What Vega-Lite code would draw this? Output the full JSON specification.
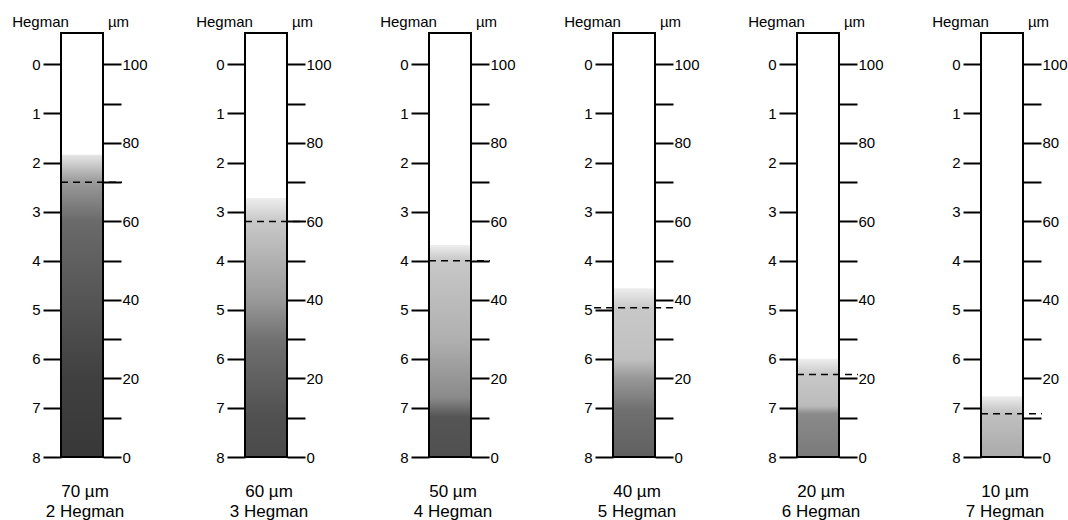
{
  "$schema": "https://vega.github.io/schema/vega-lite/v6.json",
  "background": "white",
  "padding": {"left": 11, "top": 14, "right": 0, "bottom": 0},
  "config": {
    "view": {"stroke": null},
    "font": "Liberation Sans",
    "axis": {"labelFont": "Liberation Sans", "titleFont": "Liberation Sans", "labelColor": "black", "titleColor": "black", "tickColor": "black", "labelFontSize": 15, "titleFontSize": 15, "titleFontWeight": "normal", "tickWidth": 2, "grid": false, "domain": false},
    "title": {"font": "Liberation Sans", "fontSize": 17, "fontWeight": "normal", "color": "black"}
  },
  "datasets": {
    "gauges": [
      {"gauge": 1, "stipple_top": 77, "reading_um": 70, "reading_hegman": 2},
      {"gauge": 2, "stipple_top": 66, "reading_um": 60, "reading_hegman": 3},
      {"gauge": 3, "stipple_top": 54, "reading_um": 50, "reading_hegman": 4},
      {"gauge": 4, "stipple_top": 43, "reading_um": 38, "reading_hegman": 5},
      {"gauge": 5, "stipple_top": 25, "reading_um": 21, "reading_hegman": 6},
      {"gauge": 6, "stipple_top": 15.5, "reading_um": 11, "reading_hegman": 7}
    ]
  },
  "bounds": "flush",
  "spacing": 142,
  "hconcat": [
    {
      "width": 42, "height": 424,
      "data": {"name": "gauges"},
      "transform": [{"filter": "datum.gauge === 1"}],
      "title": {"text": ["70 µm", "2 Hegman"], "orient": "bottom", "frame": "group", "anchor": "middle", "baseline": "top", "offset": 19, "lineHeight": 20, "dx": 3},
      "resolve": {"axis": {"y": "independent"}},
      "layer": [
        {
          "mark": {"type": "rect", "fill": {"gradient": "linear", "x1": 0, "y1": 0, "x2": 0, "y2": 1, "stops": [{"offset": 0, "color": "#e6e6e6"}, {"offset": 0.09, "color": "#9a9a9a"}, {"offset": 0.22, "color": "#6a6a6a"}, {"offset": 0.48, "color": "#555555"}, {"offset": 0.74, "color": "#404040"}, {"offset": 1, "color": "#383838"}]}},
          "encoding": {
            "x": {"datum": 0, "type": "quantitative", "scale": {"domain": [0, 1]}, "axis": null},
            "x2": {"datum": 1},
            "y": {"field": "stipple_top", "type": "quantitative", "scale": {"domain": [0, 108], "nice": false},
                  "axis": {"orient": "left", "values": [100, 87.5, 75, 62.5, 50, 37.5, 25, 12.5, 0], "labelExpr": "format((100 - datum.value) / 12.5, 'd')", "tickSize": 18, "labelPadding": 3, "title": "Hegman", "titleAngle": 0, "titleAlign": "center", "titleBaseline": "alphabetic", "titleX": -21, "titleY": -7}},
            "y2": {"datum": 0}
          }
        },
        {
          "mark": {"type": "rule", "strokeDash": [7, 5], "strokeWidth": 1.5, "color": "black", "clip": false},
          "encoding": {"x": {"datum": 0, "type": "quantitative"}, "x2": {"datum": 1.45}, "y": {"field": "reading_um", "type": "quantitative", "axis": null}}
        },
        {
          "mark": {"type": "rect", "fill": null, "stroke": "black", "strokeWidth": 2},
          "encoding": {
            "x": {"datum": 0, "type": "quantitative"}, "x2": {"datum": 1},
            "y": {"datum": 108, "type": "quantitative",
                  "axis": {"orient": "right", "values": [0, 10, 20, 30, 40, 50, 60, 70, 80, 90, 100], "labelExpr": "datum.value % 20 === 0 ? datum.label : ''", "tickSize": 18, "labelPadding": 1, "title": "µm", "titleAngle": 0, "titleAlign": "center", "titleBaseline": "alphabetic", "titleX": 15, "titleY": -7}},
            "y2": {"datum": 0}
          }
        }
      ]
    },
    {
      "width": 42, "height": 424,
      "data": {"name": "gauges"},
      "transform": [{"filter": "datum.gauge === 2"}],
      "title": {"text": ["60 µm", "3 Hegman"], "orient": "bottom", "frame": "group", "anchor": "middle", "baseline": "top", "offset": 19, "lineHeight": 20, "dx": 3},
      "resolve": {"axis": {"y": "independent"}},
      "layer": [
        {
          "mark": {"type": "rect", "fill": {"gradient": "linear", "x1": 0, "y1": 0, "x2": 0, "y2": 1, "stops": [{"offset": 0, "color": "#eeeeee"}, {"offset": 0.09, "color": "#c8c8c8"}, {"offset": 0.39, "color": "#9a9a9a"}, {"offset": 0.55, "color": "#707070"}, {"offset": 0.85, "color": "#505050"}, {"offset": 1, "color": "#4a4a4a"}]}},
          "encoding": {
            "x": {"datum": 0, "type": "quantitative", "scale": {"domain": [0, 1]}, "axis": null},
            "x2": {"datum": 1},
            "y": {"field": "stipple_top", "type": "quantitative", "scale": {"domain": [0, 108], "nice": false},
                  "axis": {"orient": "left", "values": [100, 87.5, 75, 62.5, 50, 37.5, 25, 12.5, 0], "labelExpr": "format((100 - datum.value) / 12.5, 'd')", "tickSize": 18, "labelPadding": 3, "title": "Hegman", "titleAngle": 0, "titleAlign": "center", "titleBaseline": "alphabetic", "titleX": -21, "titleY": -7}},
            "y2": {"datum": 0}
          }
        },
        {
          "mark": {"type": "rule", "strokeDash": [7, 5], "strokeWidth": 1.5, "color": "black", "clip": false},
          "encoding": {"x": {"datum": 0, "type": "quantitative"}, "x2": {"datum": 1.45}, "y": {"field": "reading_um", "type": "quantitative", "axis": null}}
        },
        {
          "mark": {"type": "rect", "fill": null, "stroke": "black", "strokeWidth": 2},
          "encoding": {
            "x": {"datum": 0, "type": "quantitative"}, "x2": {"datum": 1},
            "y": {"datum": 108, "type": "quantitative",
                  "axis": {"orient": "right", "values": [0, 10, 20, 30, 40, 50, 60, 70, 80, 90, 100], "labelExpr": "datum.value % 20 === 0 ? datum.label : ''", "tickSize": 18, "labelPadding": 1, "title": "µm", "titleAngle": 0, "titleAlign": "center", "titleBaseline": "alphabetic", "titleX": 15, "titleY": -7}},
            "y2": {"datum": 0}
          }
        }
      ]
    },
    {
      "width": 42, "height": 424,
      "data": {"name": "gauges"},
      "transform": [{"filter": "datum.gauge === 3"}],
      "title": {"text": ["50 µm", "4 Hegman"], "orient": "bottom", "frame": "group", "anchor": "middle", "baseline": "top", "offset": 19, "lineHeight": 20, "dx": 3},
      "resolve": {"axis": {"y": "independent"}},
      "layer": [
        {
          "mark": {"type": "rect", "fill": {"gradient": "linear", "x1": 0, "y1": 0, "x2": 0, "y2": 1, "stops": [{"offset": 0, "color": "#eeeeee"}, {"offset": 0.07, "color": "#c8c8c8"}, {"offset": 0.44, "color": "#b0b0b0"}, {"offset": 0.72, "color": "#8a8a8a"}, {"offset": 0.81, "color": "#555555"}, {"offset": 1, "color": "#505050"}]}},
          "encoding": {
            "x": {"datum": 0, "type": "quantitative", "scale": {"domain": [0, 1]}, "axis": null},
            "x2": {"datum": 1},
            "y": {"field": "stipple_top", "type": "quantitative", "scale": {"domain": [0, 108], "nice": false},
                  "axis": {"orient": "left", "values": [100, 87.5, 75, 62.5, 50, 37.5, 25, 12.5, 0], "labelExpr": "format((100 - datum.value) / 12.5, 'd')", "tickSize": 18, "labelPadding": 3, "title": "Hegman", "titleAngle": 0, "titleAlign": "center", "titleBaseline": "alphabetic", "titleX": -21, "titleY": -7}},
            "y2": {"datum": 0}
          }
        },
        {
          "mark": {"type": "rule", "strokeDash": [7, 5], "strokeWidth": 1.5, "color": "black", "clip": false},
          "encoding": {"x": {"datum": 0, "type": "quantitative"}, "x2": {"datum": 1.45}, "y": {"field": "reading_um", "type": "quantitative", "axis": null}}
        },
        {
          "mark": {"type": "rect", "fill": null, "stroke": "black", "strokeWidth": 2},
          "encoding": {
            "x": {"datum": 0, "type": "quantitative"}, "x2": {"datum": 1},
            "y": {"datum": 108, "type": "quantitative",
                  "axis": {"orient": "right", "values": [0, 10, 20, 30, 40, 50, 60, 70, 80, 90, 100], "labelExpr": "datum.value % 20 === 0 ? datum.label : ''", "tickSize": 18, "labelPadding": 1, "title": "µm", "titleAngle": 0, "titleAlign": "center", "titleBaseline": "alphabetic", "titleX": 15, "titleY": -7}},
            "y2": {"datum": 0}
          }
        }
      ]
    },
    {
      "width": 42, "height": 424,
      "data": {"name": "gauges"},
      "transform": [{"filter": "datum.gauge === 4"}],
      "title": {"text": ["40 µm", "5 Hegman"], "orient": "bottom", "frame": "group", "anchor": "middle", "baseline": "top", "offset": 19, "lineHeight": 20, "dx": 3},
      "resolve": {"axis": {"y": "independent"}},
      "layer": [
        {
          "mark": {"type": "rect", "fill": {"gradient": "linear", "x1": 0, "y1": 0, "x2": 0, "y2": 1, "stops": [{"offset": 0, "color": "#eeeeee"}, {"offset": 0.12, "color": "#c8c8c8"}, {"offset": 0.42, "color": "#c0c0c0"}, {"offset": 0.53, "color": "#999999"}, {"offset": 0.72, "color": "#707070"}, {"offset": 1, "color": "#606060"}]}},
          "encoding": {
            "x": {"datum": 0, "type": "quantitative", "scale": {"domain": [0, 1]}, "axis": null},
            "x2": {"datum": 1},
            "y": {"field": "stipple_top", "type": "quantitative", "scale": {"domain": [0, 108], "nice": false},
                  "axis": {"orient": "left", "values": [100, 87.5, 75, 62.5, 50, 37.5, 25, 12.5, 0], "labelExpr": "format((100 - datum.value) / 12.5, 'd')", "tickSize": 18, "labelPadding": 3, "title": "Hegman", "titleAngle": 0, "titleAlign": "center", "titleBaseline": "alphabetic", "titleX": -21, "titleY": -7}},
            "y2": {"datum": 0}
          }
        },
        {
          "mark": {"type": "rule", "strokeDash": [7, 5], "strokeWidth": 1.5, "color": "black", "clip": false},
          "encoding": {"x": {"datum": -0.45, "type": "quantitative"}, "x2": {"datum": 1.45}, "y": {"field": "reading_um", "type": "quantitative", "axis": null}}
        },
        {
          "mark": {"type": "rect", "fill": null, "stroke": "black", "strokeWidth": 2},
          "encoding": {
            "x": {"datum": 0, "type": "quantitative"}, "x2": {"datum": 1},
            "y": {"datum": 108, "type": "quantitative",
                  "axis": {"orient": "right", "values": [0, 10, 20, 30, 40, 50, 60, 70, 80, 90, 100], "labelExpr": "datum.value % 20 === 0 ? datum.label : ''", "tickSize": 18, "labelPadding": 1, "title": "µm", "titleAngle": 0, "titleAlign": "center", "titleBaseline": "alphabetic", "titleX": 15, "titleY": -7}},
            "y2": {"datum": 0}
          }
        }
      ]
    },
    {
      "width": 42, "height": 424,
      "data": {"name": "gauges"},
      "transform": [{"filter": "datum.gauge === 5"}],
      "title": {"text": ["20 µm", "6 Hegman"], "orient": "bottom", "frame": "group", "anchor": "middle", "baseline": "top", "offset": 19, "lineHeight": 20, "dx": 3},
      "resolve": {"axis": {"y": "independent"}},
      "layer": [
        {
          "mark": {"type": "rect", "fill": {"gradient": "linear", "x1": 0, "y1": 0, "x2": 0, "y2": 1, "stops": [{"offset": 0, "color": "#eeeeee"}, {"offset": 0.16, "color": "#c8c8c8"}, {"offset": 0.48, "color": "#bbbbbb"}, {"offset": 0.56, "color": "#8a8a8a"}, {"offset": 1, "color": "#7a7a7a"}]}},
          "encoding": {
            "x": {"datum": 0, "type": "quantitative", "scale": {"domain": [0, 1]}, "axis": null},
            "x2": {"datum": 1},
            "y": {"field": "stipple_top", "type": "quantitative", "scale": {"domain": [0, 108], "nice": false},
                  "axis": {"orient": "left", "values": [100, 87.5, 75, 62.5, 50, 37.5, 25, 12.5, 0], "labelExpr": "format((100 - datum.value) / 12.5, 'd')", "tickSize": 18, "labelPadding": 3, "title": "Hegman", "titleAngle": 0, "titleAlign": "center", "titleBaseline": "alphabetic", "titleX": -21, "titleY": -7}},
            "y2": {"datum": 0}
          }
        },
        {
          "mark": {"type": "rule", "strokeDash": [7, 5], "strokeWidth": 1.5, "color": "black", "clip": false},
          "encoding": {"x": {"datum": 0, "type": "quantitative"}, "x2": {"datum": 1.45}, "y": {"field": "reading_um", "type": "quantitative", "axis": null}}
        },
        {
          "mark": {"type": "rect", "fill": null, "stroke": "black", "strokeWidth": 2},
          "encoding": {
            "x": {"datum": 0, "type": "quantitative"}, "x2": {"datum": 1},
            "y": {"datum": 108, "type": "quantitative",
                  "axis": {"orient": "right", "values": [0, 10, 20, 30, 40, 50, 60, 70, 80, 90, 100], "labelExpr": "datum.value % 20 === 0 ? datum.label : ''", "tickSize": 18, "labelPadding": 1, "title": "µm", "titleAngle": 0, "titleAlign": "center", "titleBaseline": "alphabetic", "titleX": 15, "titleY": -7}},
            "y2": {"datum": 0}
          }
        }
      ]
    },
    {
      "width": 42, "height": 424,
      "data": {"name": "gauges"},
      "transform": [{"filter": "datum.gauge === 6"}],
      "title": {"text": ["10 µm", "7 Hegman"], "orient": "bottom", "frame": "group", "anchor": "middle", "baseline": "top", "offset": 19, "lineHeight": 20, "dx": 3},
      "resolve": {"axis": {"y": "independent"}},
      "layer": [
        {
          "mark": {"type": "rect", "fill": {"gradient": "linear", "x1": 0, "y1": 0, "x2": 0, "y2": 1, "stops": [{"offset": 0, "color": "#eeeeee"}, {"offset": 0.29, "color": "#c0c0c0"}, {"offset": 1, "color": "#aaaaaa"}]}},
          "encoding": {
            "x": {"datum": 0, "type": "quantitative", "scale": {"domain": [0, 1]}, "axis": null},
            "x2": {"datum": 1},
            "y": {"field": "stipple_top", "type": "quantitative", "scale": {"domain": [0, 108], "nice": false},
                  "axis": {"orient": "left", "values": [100, 87.5, 75, 62.5, 50, 37.5, 25, 12.5, 0], "labelExpr": "format((100 - datum.value) / 12.5, 'd')", "tickSize": 18, "labelPadding": 3, "title": "Hegman", "titleAngle": 0, "titleAlign": "center", "titleBaseline": "alphabetic", "titleX": -21, "titleY": -7}},
            "y2": {"datum": 0}
          }
        },
        {
          "mark": {"type": "rule", "strokeDash": [7, 5], "strokeWidth": 1.5, "color": "black", "clip": false},
          "encoding": {"x": {"datum": 0, "type": "quantitative"}, "x2": {"datum": 1.45}, "y": {"field": "reading_um", "type": "quantitative", "axis": null}}
        },
        {
          "mark": {"type": "rect", "fill": null, "stroke": "black", "strokeWidth": 2},
          "encoding": {
            "x": {"datum": 0, "type": "quantitative"}, "x2": {"datum": 1},
            "y": {"datum": 108, "type": "quantitative",
                  "axis": {"orient": "right", "values": [0, 10, 20, 30, 40, 50, 60, 70, 80, 90, 100], "labelExpr": "datum.value % 20 === 0 ? datum.label : ''", "tickSize": 18, "labelPadding": 1, "title": "µm", "titleAngle": 0, "titleAlign": "center", "titleBaseline": "alphabetic", "titleX": 15, "titleY": -7}},
            "y2": {"datum": 0}
          }
        }
      ]
    }
  ]
}
